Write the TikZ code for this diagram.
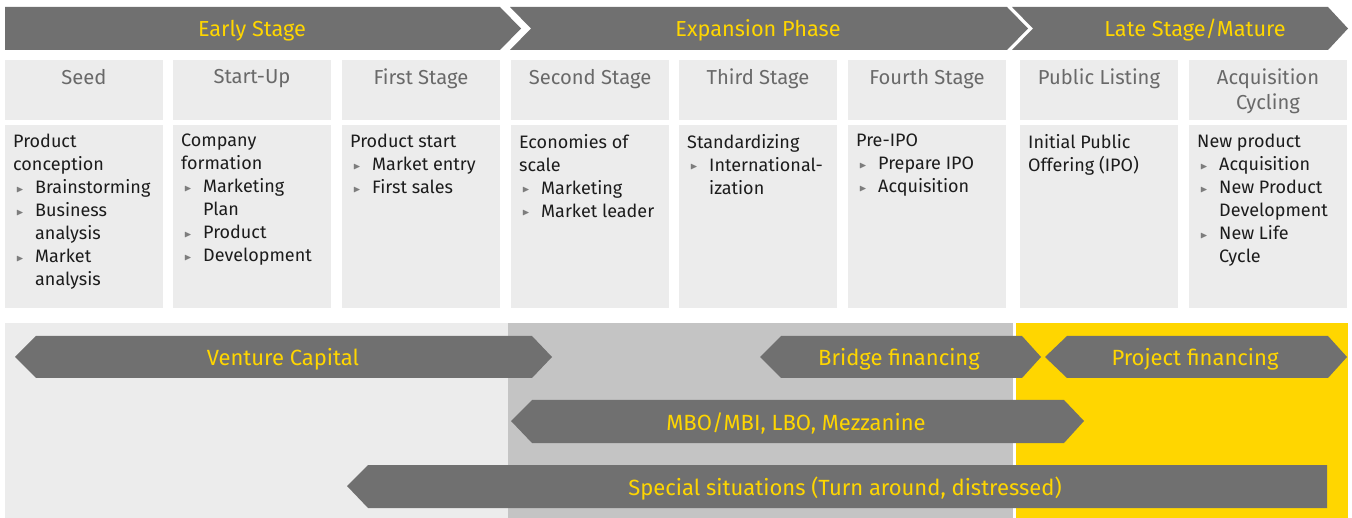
\documentclass[tikz,border=0pt]{standalone}
\usepackage{amssymb}
\usepackage{fontspec}
\setmainfont{Fira Sans}
\definecolor{eygray}{RGB}{112,112,112}
\definecolor{eyyellow}{RGB}{255,214,0}
\definecolor{boxgray}{RGB}{236,236,236}
\definecolor{midgray}{RGB}{196,196,196}
\definecolor{headgray}{RGB}{105,105,105}
\definecolor{txtdark}{RGB}{28,28,28}
\definecolor{bulletgray}{RGB}{125,125,125}
\newcommand{\itm}{\makebox[22pt][l]{\hspace{3pt}\textcolor{bulletgray}{\raisebox{1.5pt}{\scalebox{0.55}{$\blacktriangleright$}}}}}
\newcommand{\cnt}{\hspace*{22pt}}

\begin{document}
\begin{tikzpicture}[x=1pt, y=-1pt,
    banner/.style={fill=eygray},
    bantext/.style={text=eyyellow, font=\fontsize{21.7}{26}\selectfont, anchor=base, inner sep=0pt},
    headbox/.style={fill=boxgray},
    headtext/.style={text=headgray, font=\fontsize{20.2}{25}\selectfont, align=center, anchor=north, inner sep=0pt},
    detailtext/.style={text=txtdark, font=\fontsize{18}{23}\selectfont, align=left, anchor=north west, inner sep=0pt},
    finarrow/.style={fill=eygray},
    fintext/.style={text=eyyellow, font=\fontsize{22}{26}\selectfont, anchor=base, inner sep=0pt}]
  \useasboundingbox (0,0) rectangle (1352,518);

  \fill[banner] (5,7) -- (500,7) -- (521,28.5) -- (500,50) -- (5,50) -- cycle;
  \fill[banner] (510,7) -- (1007,7) -- (1028,28.5) -- (1007,50) -- (510,50) -- (531,28.5) -- cycle;
  \fill[banner] (1012,7) -- (1328,7) -- (1348,28.5) -- (1328,50) -- (1012,50) -- (1033,28.5) -- cycle;
  \node[bantext] (early) at (252,37) {Early Stage};
  \node[bantext] (expansion) at (758,37) {Expansion Phase};
  \node[bantext] (late) at (1195,37) {Late Stage/Mature};

  \foreach \x in {5,173,342,511,679,848,1020,1189} {
    \fill[headbox] (\x,60) rectangle ++(158,60);
    \fill[headbox] (\x,125) rectangle ++(158,183);
  }

  \node[headtext] (seed) at (84,69) {Seed};
  \node[headtext] (startup) at (252,69) {Start-Up};
  \node[headtext] (first) at (421,69) {First Stage};
  \node[headtext] (second) at (590,69) {Second Stage};
  \node[headtext] (third) at (758,69) {Third Stage};
  \node[headtext] (fourth) at (927,69) {Fourth Stage};
  \node[headtext] (public) at (1099,69) {Public Listing};
  \node[headtext] (acquisition) at (1268,69) {Acquisition\\Cycling};

  \node[detailtext] (seedtxt) at (13,134) {Product\\conception\\\itm Brainstorming\\\itm Business\\\cnt analysis\\\itm Market\\\cnt analysis};
  \node[detailtext] (startuptxt) at (181,134) {Company\\formation\\\itm Marketing\\\cnt Plan\\\itm Product\\\itm Development};
  \node[detailtext] (firsttxt) at (350,134) {Product start\\\itm Market entry\\\itm First sales};
  \node[detailtext] (secondtxt) at (519,134) {Economies of\\scale\\\itm Marketing\\\itm Market leader};
  \node[detailtext] (thirdtxt) at (687,134) {Standardizing\\\itm International-\\\cnt ization};
  \node[detailtext] (fourthtxt) at (856,134) {Pre-IPO\\\itm Prepare IPO\\\itm Acquisition};
  \node[detailtext] (publictxt) at (1028,134) {Initial Public\\Offering (IPO)};
  \node[detailtext] (acquisitiontxt) at (1197,134) {New product\\\itm Acquisition\\\itm New Product\\\cnt Development\\\itm New Life\\\cnt Cycle};

  \fill[boxgray] (5,323) rectangle (508,518);
  \fill[midgray] (508,323) rectangle (1013,518);
  \fill[eyyellow] (1016,323) rectangle (1348,518);

  \fill[finarrow] (15,357) -- (36,336) -- (532,336) -- (552,357) -- (532,378) -- (36,378) -- cycle;
  \fill[finarrow] (760,357) -- (781,336) -- (1022,336) -- (1041,357) -- (1022,378) -- (781,378) -- cycle;
  \fill[finarrow] (1045,357) -- (1067,336) -- (1328,336) -- (1347,357) -- (1328,378) -- (1067,378) -- cycle;
  \fill[finarrow] (511,421) -- (532,400) -- (1064,400) -- (1084,421) -- (1064,443) -- (532,443) -- cycle;
  \fill[finarrow] (347,486) -- (368,465) -- (1327,465) -- (1327,508) -- (368,508) -- cycle;
  \node[fintext] (venture) at (283,366) {Venture Capital};
  \node[fintext] (bridge) at (899,366) {Bridge financing};
  \node[fintext] (project) at (1195,366) {Project financing};
  \node[fintext] (mbo) at (796,430) {MBO/MBI, LBO, Mezzanine};
  \node[fintext] (special) at (845,495) {Special situations (Turn around, distressed)};
\end{tikzpicture}
\end{document}
